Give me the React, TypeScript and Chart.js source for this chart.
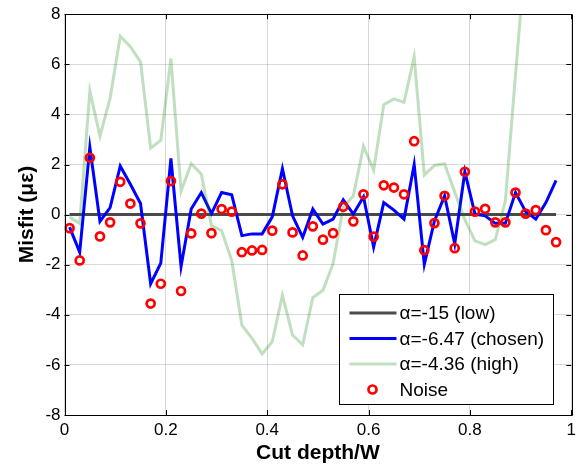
import React, { useEffect, useRef } from "react";
import { Chart, registerables } from "chart.js";

Chart.register(...registerables);

// Cut depth / W positions
const depth = [
  0.01, 0.03, 0.05, 0.07, 0.09, 0.11, 0.13, 0.15, 0.17, 0.19,
  0.21, 0.23, 0.25, 0.27, 0.29, 0.31, 0.33, 0.35, 0.37, 0.39,
  0.41, 0.43, 0.45, 0.47, 0.49, 0.51, 0.53, 0.55, 0.57, 0.59,
  0.61, 0.63, 0.65, 0.67, 0.69, 0.71, 0.73, 0.75, 0.77, 0.79,
  0.81, 0.83, 0.85, 0.87, 0.89, 0.91, 0.93, 0.95, 0.97,
];

// α = -15 (low)
const misfitLow = [
  0, 0, 0, 0, 0, 0, 0, 0, 0, 0,
  0, 0, 0, 0, 0, 0, 0, 0, 0, 0,
  0, 0, 0, 0, 0, 0, 0, 0, 0, 0,
  0, 0, 0, 0, 0, 0, 0, 0, 0, 0,
  0, 0, 0, 0, 0, 0, 0, 0, 0,
];

// α = -6.47 (chosen)
const misfitChosen = [
  -0.5, -1.5, 2.69, -0.27, 0.28, 1.94, 1.21, 0.44, -2.76, -1.94,
  2.24, -2.07, 0.22, 0.88, 0.04, 0.88, 0.79, -0.84, -0.77, -0.77,
  -0.09, 1.83, -0.05, -0.91, 0.22, -0.38, -0.18, 0.59, 0.02, 0.71,
  -1.3, 0.48, 0.18, -0.18, 2.0, -1.99, -0.25, 0.75, -1.17, 1.71,
  0.02, -0.05, -0.35, -0.35, 0.88, 0.12, -0.18, 0.48, 1.37,
];

// α = -4.36 (high)
const misfitHigh = [
  -0.1, -0.35, 4.94, 3.13, 4.65, 7.12, 6.7, 6.1, 2.66, 2.96,
  6.23, 0.94, 2.03, 1.61, -0.44, -0.64, -1.83, -4.41, -4.94, -5.56,
  -5.07, -3.22, -4.81, -5.2, -3.31, -3.02, -1.96, 0.3, 0.75, 2.73,
  1.77, 4.39, 4.62, 4.48, 6.3, 1.58, 1.96, 2.03, 0.9, -0.2,
  -1.05, -1.2, -1.0, 0.55, 5.6, 10.5, 15, 19, 23,
];

// Noise
const noise = [
  -0.54, -1.83, 2.27, -0.87, -0.31, 1.31, 0.44, -0.35, -3.55, -2.76,
  1.34, -3.05, -0.75, 0.04, -0.74, 0.22, 0.12, -1.5, -1.43, -1.41,
  -0.64, 1.21, -0.71, -1.63, -0.47, -1.0, -0.74, 0.31, -0.27, 0.81,
  -0.88, 1.17, 1.08, 0.81, 2.93, -1.42, -0.34, 0.75, -1.34, 1.71,
  0.12, 0.23, -0.31, -0.31, 0.88, 0.04, 0.18, -0.62, -1.1,
];

const seriesLabels = ["α=-15 (low)", "α=-6.47 (chosen)", "α=-4.36 (high)", "Noise"];
const xTicks = [0, 0.2, 0.4, 0.6, 0.8, 1];
const yTicks = [-8, -6, -4, -2, 0, 2, 4, 6, 8];

const FONT = "'Liberation Sans', Arial, Helvetica, sans-serif";
const LOW_COLOR = "rgba(45,45,45,0.85)";
const CHOSEN_COLOR = "#0000ff";
const HIGH_COLOR = "rgba(0,128,0,0.25)";
const NOISE_COLOR = "#ff0000";

const pts = (vals: number[]) => depth.map((x, i) => ({ x, y: vals[i] }));

const framePlugin = {
  id: "frame",
  afterDatasetsDraw(chart: any) {
    const { ctx, chartArea: a, scales } = chart;
    ctx.save();
    ctx.strokeStyle = "#000";
    ctx.lineWidth = 1;
    ctx.beginPath();
    ctx.rect(Math.round(a.left) + 0.5, Math.round(a.top) + 0.5, Math.round(a.right - a.left), Math.round(a.bottom - a.top));
    ctx.stroke();
    const tl = 5;
    ctx.beginPath();
    for (const v of xTicks) {
      const px = Math.round(scales.x.getPixelForValue(v)) + 0.5;
      ctx.moveTo(px, a.bottom);
      ctx.lineTo(px, a.bottom - tl);
      ctx.moveTo(px, a.top);
      ctx.lineTo(px, a.top + tl);
    }
    for (const v of yTicks) {
      const py = Math.round(scales.y.getPixelForValue(v)) + 0.5;
      ctx.moveTo(a.left, py);
      ctx.lineTo(a.left + tl, py);
      ctx.moveTo(a.right, py);
      ctx.lineTo(a.right - tl, py);
    }
    ctx.stroke();
    ctx.restore();
  },
  afterDraw(chart: any) {
    const { ctx, chartArea: a } = chart;
    const w = 214;
    const h = 110;
    const left = Math.round(a.right - 18 - w) + 0.5;
    const top = Math.round(a.bottom - 11 - h) + 0.5;
    ctx.save();
    ctx.fillStyle = "#fff";
    ctx.fillRect(left, top, w, h);
    ctx.strokeStyle = "#000";
    ctx.lineWidth = 1;
    ctx.strokeRect(left, top, w, h);
    const colors = [LOW_COLOR, CHOSEN_COLOR, HIGH_COLOR];
    ctx.font = `19px ${FONT}`;
    ctx.textBaseline = "middle";
    ctx.textAlign = "left";
    seriesLabels.forEach((label, i) => {
      const y = top + 18.5 + i * 25.5;
      if (i < 3) {
        ctx.strokeStyle = colors[i];
        ctx.lineWidth = 3;
        ctx.beginPath();
        ctx.moveTo(left + 10, y);
        ctx.lineTo(left + 57, y);
        ctx.stroke();
      } else {
        ctx.strokeStyle = NOISE_COLOR;
        ctx.lineWidth = 2.7;
        ctx.beginPath();
        ctx.arc(left + 33, y, 4, 0, Math.PI * 2);
        ctx.stroke();
      }
      ctx.fillStyle = "#000";
      ctx.fillText(label, left + 60, y + 1);
    });
    ctx.restore();
  },
};

export default function App() {
  const ref = useRef<HTMLCanvasElement | null>(null);

  useEffect(() => {
    if (!ref.current) return;
    const chart = new Chart(ref.current, {
      type: "scatter",
      data: {
        datasets: [
          {
            label: seriesLabels[0],
            data: pts(misfitLow),
            showLine: true,
            borderColor: LOW_COLOR,
            backgroundColor: LOW_COLOR,
            borderWidth: 3,
            pointRadius: 0,
            order: 4,
          },
          {
            label: seriesLabels[1],
            data: pts(misfitChosen),
            showLine: true,
            borderColor: CHOSEN_COLOR,
            backgroundColor: CHOSEN_COLOR,
            borderWidth: 3,
            pointRadius: 0,
            order: 3,
          },
          {
            label: seriesLabels[2],
            data: pts(misfitHigh),
            showLine: true,
            borderColor: HIGH_COLOR,
            backgroundColor: HIGH_COLOR,
            borderWidth: 3,
            pointRadius: 0,
            order: 2,
            clip: 0,
          },
          {
            label: seriesLabels[3],
            data: pts(noise),
            showLine: false,
            pointRadius: 4,
            pointBorderWidth: 2.7,
            pointBorderColor: NOISE_COLOR,
            pointBackgroundColor: "rgba(0,0,0,0)",
            borderColor: NOISE_COLOR,
            backgroundColor: "rgba(0,0,0,0)",
            order: 1,
          },
        ] as any,
      },
      options: {
        animation: false,
        responsive: false,
        layout: { padding: { top: 12.5, right: 6.5, left: 0, bottom: 0 } },
        plugins: { legend: { display: false }, tooltip: { enabled: false } },
        scales: {
          x: {
            type: "linear",
            min: 0,
            max: 1,
            afterFit: (s: any) => {
              s.height = 57;
            },
            afterBuildTicks: (s: any) => {
              s.ticks = xTicks.map((v) => ({ value: v }));
            },
            ticks: {
              callback: (v: any) => String(Math.round(Number(v) * 10) / 10),
              font: { family: FONT, size: 17 },
              color: "#000",
              padding: 5,
              maxRotation: 0,
            },
            grid: { color: "rgba(0,0,0,0.15)", drawTicks: false },
            border: { display: false },
            title: {
              display: true,
              text: "Cut depth/W",
              font: { family: FONT, size: 21, weight: "bold" },
              color: "#000",
              padding: { top: 0, bottom: 6 },
            },
          },
          y: {
            type: "linear",
            min: -8,
            max: 8,
            afterFit: (s: any) => {
              s.width = 64.5;
            },
            afterBuildTicks: (s: any) => {
              s.ticks = yTicks.map((v) => ({ value: v }));
            },
            ticks: {
              callback: (v: any) => String(v),
              font: { family: FONT, size: 17 },
              color: "#000",
              padding: 4,
            },
            grid: { color: "rgba(0,0,0,0.15)", drawTicks: false },
            border: { display: false },
            title: {
              display: true,
              text: "Misfit (με)",
              font: { family: FONT, size: 21, weight: "bold" },
              color: "#000",
              padding: { top: 15, bottom: 0 },
            },
          },
        },
      } as any,
      plugins: [framePlugin],
    });
    return () => chart.destroy();
  }, []);

  return (
    <div style={{ position: "fixed", left: 0, top: 0, width: 581, height: 472, background: "#fff" }}>
      <canvas ref={ref} width={581} height={472} style={{ width: 581, height: 472, display: "block" }} />
    </div>
  );
}
